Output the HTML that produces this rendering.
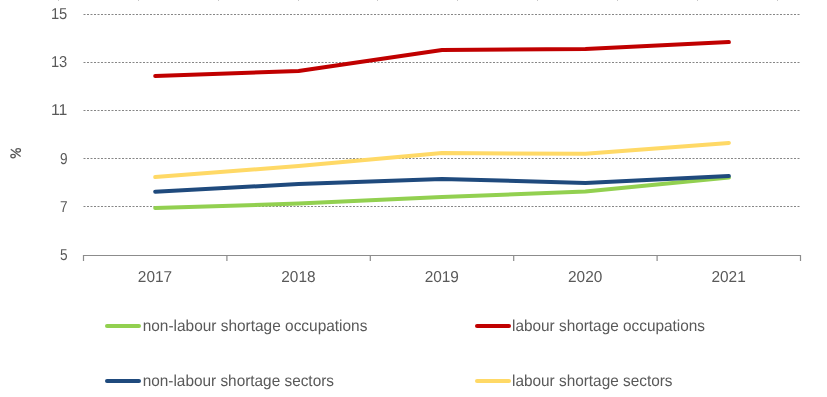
<!DOCTYPE html>
<html><head><meta charset="utf-8">
<style>
html,body{margin:0;padding:0;background:#fff;}
body{width:827px;height:397px;overflow:hidden;position:relative;font-family:"Liberation Sans",sans-serif;}
svg{position:absolute;left:0;top:0;will-change:transform;text-rendering:geometricPrecision;}
</style></head>
<body>
<svg width="827" height="397" viewBox="0 0 827 397">
  <!-- top faint ticks -->
  <g fill="#c8c8c8">
    <rect x="58" y="0" width="1" height="1"/><rect x="138" y="0" width="1" height="1"/>
    <rect x="218" y="0" width="1" height="1"/><rect x="298" y="0" width="1" height="1"/>
    <rect x="377" y="0" width="1" height="1"/><rect x="457" y="0" width="1" height="1"/>
    <rect x="537" y="0" width="1" height="1"/><rect x="617" y="0" width="1" height="1"/>
    <rect x="697" y="0" width="1" height="1"/><rect x="777" y="0" width="1" height="1"/>
  </g>
  <!-- gridlines -->
  <g stroke="#868686" stroke-width="1" stroke-dasharray="2 1.5">
    <line x1="83.5" y1="14.5" x2="800" y2="14.5"/>
    <line x1="83.5" y1="62.5" x2="800" y2="62.5"/>
    <line x1="83.5" y1="110.5" x2="800" y2="110.5"/>
    <line x1="83.5" y1="158.5" x2="800" y2="158.5"/>
    <line x1="83.5" y1="206.5" x2="800" y2="206.5"/>
  </g>
  <!-- axis -->
  <g stroke="#8c8c8c" stroke-width="1.2" fill="none">
    <path d="M83.5 261 V255.5 H800.5 V261"/>
    <line x1="226.9" y1="255.5" x2="226.9" y2="261"/>
    <line x1="370.3" y1="255.5" x2="370.3" y2="261"/>
    <line x1="513.7" y1="255.5" x2="513.7" y2="261"/>
    <line x1="657.1" y1="255.5" x2="657.1" y2="261"/>
  </g>
  <!-- series -->
  <g fill="none" stroke-width="4" stroke-linecap="round" stroke-linejoin="round">
    <polyline stroke="#92D050" points="155.2,207.9 298.6,203.6 442.0,197.0 585.4,191.5 728.9,177.5"/>
    <polyline stroke="#C00000" points="155.2,76.0 298.6,71.0 442.0,50.1 585.4,48.9 728.9,42.1"/>
    <polyline stroke="#1F4A7D" points="155.2,191.7 298.6,184.0 442.0,179.0 585.4,182.9 728.9,176.0"/>
    <polyline stroke="#FFD966" points="155.2,177.0 298.6,166.0 442.0,153.1 585.4,153.7 728.9,142.9"/>
  </g>
  <!-- y labels -->
  <g fill="#595959" font-size="15.8" text-anchor="end">
    <text x="67.3" y="19" textLength="16.4" lengthAdjust="spacingAndGlyphs">15</text>
    <text x="67.3" y="67" textLength="16.4" lengthAdjust="spacingAndGlyphs">13</text>
    <text x="67.3" y="115" textLength="16.4" lengthAdjust="spacingAndGlyphs">11</text>
    <text x="67.5" y="163.5" textLength="7.6" lengthAdjust="spacingAndGlyphs">9</text>
    <text x="67.5" y="211.5" textLength="7.6" lengthAdjust="spacingAndGlyphs">7</text>
    <text x="67.5" y="259.5" textLength="7.6" lengthAdjust="spacingAndGlyphs">5</text>
  </g>
  <g fill="none" stroke="#595959" stroke-width="1.25">
    <ellipse cx="18.2" cy="150.35" rx="2.3" ry="1.65"/>
    <ellipse cx="13.05" cy="156.1" rx="2.25" ry="1.7"/>
    <line x1="10.8" y1="149.2" x2="20.6" y2="156.4"/>
  </g>
  <!-- x labels -->
  <g fill="#595959" font-size="15.8" text-anchor="middle">
    <text x="155" y="282" textLength="34.3" lengthAdjust="spacingAndGlyphs">2017</text>
    <text x="298.4" y="282" textLength="34.3" lengthAdjust="spacingAndGlyphs">2018</text>
    <text x="441.8" y="282" textLength="34.3" lengthAdjust="spacingAndGlyphs">2019</text>
    <text x="585.2" y="282" textLength="34.3" lengthAdjust="spacingAndGlyphs">2020</text>
    <text x="728.6" y="282" textLength="34.3" lengthAdjust="spacingAndGlyphs">2021</text>
  </g>
  <!-- legend -->
  <g fill="none" stroke-width="4" stroke-linecap="round">
    <line x1="107" y1="326" x2="139" y2="326" stroke="#92D050"/>
    <line x1="477" y1="326" x2="509" y2="326" stroke="#C00000"/>
    <line x1="107" y1="381" x2="139" y2="381" stroke="#1F4A7D"/>
    <line x1="477" y1="381" x2="509" y2="381" stroke="#FFD966"/>
  </g>
  <g fill="#595959" font-size="16">
    <text x="142.7" y="331" textLength="224.7" lengthAdjust="spacingAndGlyphs">non-labour shortage occupations</text>
    <text x="512" y="331" textLength="193" lengthAdjust="spacingAndGlyphs">labour shortage occupations</text>
    <text x="142.7" y="386" textLength="191.3" lengthAdjust="spacingAndGlyphs">non-labour shortage sectors</text>
    <text x="512" y="386" textLength="160.5" lengthAdjust="spacingAndGlyphs">labour shortage sectors</text>
  </g>
</svg>
</body></html>
